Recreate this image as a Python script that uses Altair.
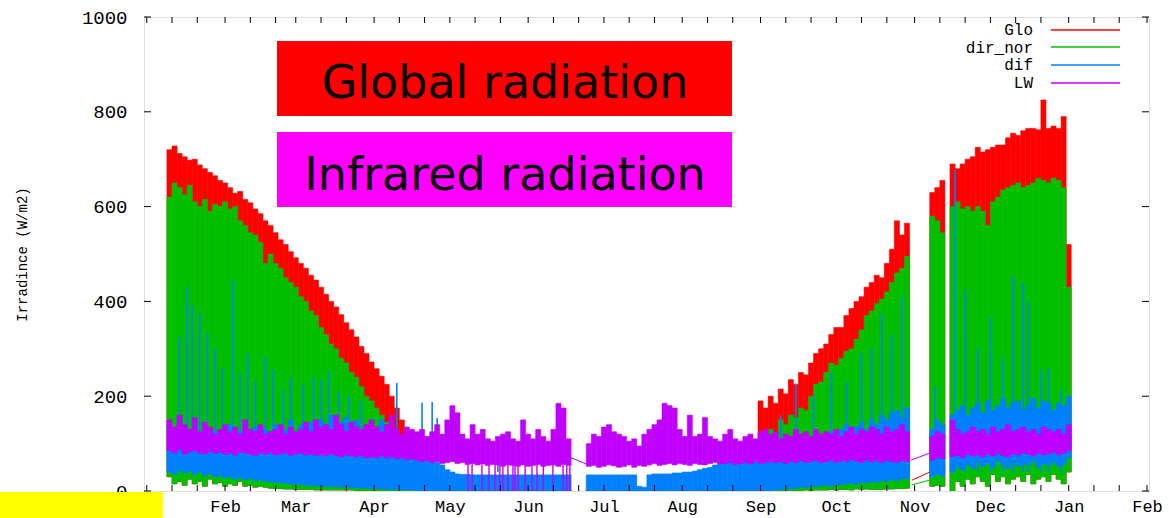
import altair as alt
import pandas as pd

N = None
# centre day (day-of-year) of each 2-day bin
bin_days = list(range(10, 367, 2))

glo_max = [
    720, 728, 712, 705, 698, 700, 688, 680, 672, 665,
    655, 650, 640, 628, 632, 615, 608, 595, 585, 570,
    560, 545, 530, 520, 505, 492, 480, 470, 455, 445,
    430, 415, 400, 388, 372, 355, 340, 325, 305, 290,
    272, 258, 242, 225, 200, 175, 150, 125, 100, 80,
    60, 45, 35, 25, 15, 10, 8, 5, 5, 3,
    3, 3, 3, 2, 2, 2, 2, 2, 2, 2,
    2, 2, 2, 2, 2, 2, 2, 2, 2, 2,
    N, N, N, 2, 2, 2, 2, 2, 2, 2,
    2, 2, 2, 2, 2, 2, 2, 2, 2, 2,
    2, 2, 3, 3, 3, 4, 5, 5, 6, 8,
    10, 12, 15, 20, 25, 40, 100, 190, 175, 200,
    185, 215, 205, 235, 225, 250, 245, 270, 290, 300,
    310, 330, 345, 345, 370, 385, 400, 410, 430, 440,
    455, 450, 480, 510, 570, 540, 565, N, N, N,
    N, 630, 640, 655, N, 690, 680, 690, 700, 705,
    725, 715, 720, 725, 730, 730, 745, 755, 750, 760,
    765, 765, 762, 825, 765, 770, 765, 790, 520,
]
dir_max = [
    620, 650, 640, 625, 645, 610, 600, 615, 590, 605,
    600, 610, 595, 600, 570, 560, 545, 540, 525, 480,
    500, 480, 470, 450, 440, 430, 410, 400, 380, 370,
    345, 330, 310, 300, 280, 270, 250, 240, 220, 200,
    190, 175, 160, 145, 120, 100, 80, 60, 40, 30,
    20, 12, 8, 5, 4, 3, 3, 2, 2, 2,
    2, 2, 2, 2, 2, 2, 2, 2, 2, 2,
    2, 2, 2, 2, 2, 2, 2, 2, 2, 2,
    N, N, N, 2, 2, 2, 2, 2, 2, 2,
    2, 2, 2, 2, 2, 2, 2, 2, 2, 2,
    2, 2, 2, 2, 3, 3, 3, 4, 4, 5,
    5, 6, 8, 10, 12, 20, 60, 110, 100, 130,
    120, 150, 140, 160, 155, 175, 170, 200, 225, 230,
    250, 270, 265, 280, 295, 300, 320, 340, 370, 380,
    395, 405, 420, 440, 460, 470, 495, N, N, N,
    N, 580, 570, 545, N, 600, 610, 595, 600, 590,
    600, 590, 560, 610, 620, 635, 640, 645, 650, 640,
    645, 650, 660, 655, 650, 660, 655, 640, 430,
]
dir_min = [
    30, 15, 20, 12, 25, 15, 20, 10, 25, 15,
    18, 10, 15, 12, 20, 10, 12, 8, 10, 8,
    6, 5, 5, 4, 4, 3, 3, 3, 3, 2,
    2, 2, 2, 2, 2, 2, 2, 1, 1, 1,
    0, 0, 0, 0, 0, 0, 0, 0, 0, 0,
    0, 0, 0, 0, 0, 0, 0, 0, 0, 0,
    0, 0, 0, 0, 0, 0, 0, 0, 0, 0,
    0, 0, 0, 0, 0, 0, 0, 0, 0, 0,
    N, N, N, 0, 0, 0, 0, 0, 0, 0,
    0, 0, 0, 0, 0, 0, 0, 0, 0, 0,
    0, 0, 0, 0, 0, 0, 0, 0, 0, 0,
    0, 0, 0, 0, 0, 0, 0, 0, 0, 0,
    0, 0, 1, 0, 1, 1, 2, 1, 2, 2,
    2, 3, 2, 3, 3, 2, 4, 3, 4, 3,
    3, 3, 4, 4, 5, 5, 6, N, N, N,
    N, 10, 12, 10, N, 0, 20, 10, 25, 15,
    30, 20, 10, 35, 20, 30, 15, 25, 30, 20,
    35, 15, 25, 30, 20, 35, 25, 15, 40,
]
dif_max = [
    140, 120, 160, 130, 110, 150, 120, 130, 115, 125,
    120, 130, 140, 110, 125, 120, 115, 135, 120, 130,
    125, 140, 120, 130, 150, 125, 140, 135, 145, 130,
    150, 140, 160, 135, 145, 155, 140, 150, 130, 140,
    135, 125, 150, 130, 120, 110, 100, 95, 85, 80,
    75, 70, 65, 60, 55, 45, 40, 36, 35, 35,
    34, 34, 34, 34, 34, 34, 34, 34, 34, 34,
    34, 34, 34, 34, 34, 34, 34, 34, 34, 34,
    N, N, N, 34, 34, 34, 34, 34, 34, 34,
    34, 34, 34, 10, 8, 34, 36, 36, 36, 36,
    38, 38, 40, 40, 42, 45, 48, 50, 55, 58,
    60, 62, 65, 66, 70, 72, 75, 80, 85, 80,
    85, 90, 95, 100, 90, 105, 110, 100, 115, 120,
    110, 125, 120, 130, 140, 125, 135, 145, 130, 150,
    140, 160, 150, 165, 170, 155, 175, N, N, N,
    N, 130, 150, 140, N, 160, 170, 180, 160, 175,
    185, 165, 190, 170, 180, 195, 175, 185, 190, 170,
    180, 195, 175, 190, 185, 170, 185, 180, 200,
]
dif_min = [
    40, 35, 45, 38, 42, 35, 40, 32, 36, 30,
    32, 28, 30, 25, 28, 24, 26, 22, 24, 20,
    20, 18, 18, 16, 15, 14, 14, 12, 12, 11,
    10, 10, 9, 9, 8, 8, 7, 7, 6, 6,
    5, 5, 4, 4, 3, 3, 2, 2, 2, 1,
    0, 0, 0, 0, 0, 0, 0, 0, 0, 0,
    0, 0, 0, 0, 0, 0, 0, 0, 0, 0,
    0, 0, 0, 0, 0, 0, 0, 0, 0, 0,
    N, N, N, 0, 0, 0, 0, 0, 0, 0,
    0, 0, 0, 0, 0, 0, 0, 0, 0, 0,
    0, 0, 0, 0, 0, 0, 0, 0, 0, 0,
    0, 0, 0, 0, 0, 0, 0, 0, 0, 0,
    3, 2, 5, 4, 6, 8, 7, 10, 9, 11,
    12, 10, 14, 13, 15, 16, 14, 18, 17, 20,
    18, 22, 20, 24, 22, 25, 26, N, N, N,
    N, 30, 35, 32, N, 40, 50, 45, 55, 48,
    60, 52, 58, 50, 62, 55, 48, 60, 52, 58,
    55, 62, 50, 58, 54, 60, 52, 56, 70,
]
lw_max = [
    150, 135, 160, 140, 130, 155, 125, 145, 135, 120,
    130, 140, 125, 135, 120, 150, 130, 125, 140, 120,
    125, 130, 140, 120, 135, 125, 130, 145, 125, 150,
    135, 140, 130, 160, 140, 125, 145, 135, 130, 140,
    150, 135, 125, 140, 160, 130, 120, 135, 130, 125,
    130, 115, 125, 140, 120, 150, 180, 165, 120, 110,
    140, 120, 130, 110, 105, 115, 120, 125, 110, 105,
    150, 120, 110, 130, 115, 105, 130, 185, 175, 110,
    N, N, N, 100, 120, 115, 135, 140, 125, 120,
    115, 105, 110, 95, 120, 130, 140, 150, 185, 180,
    175, 130, 115, 160, 115, 120, 155, 115, 110, 105,
    120, 130, 110, 105, 115, 120, 110, 125, 130, 120,
    125, 110, 120, 115, 130, 120, 125, 115, 130, 120,
    125, 120, 130, 115, 125, 135, 120, 130, 125, 135,
    130, 120, 135, 125, 130, 140, 125, N, N, N,
    N, 115, 125, 120, N, 150, 130, 120, 125, 135,
    125, 130, 120, 135, 125, 130, 140, 125, 130, 135,
    125, 130, 120, 135, 130, 125, 130, 120, 140,
]
lw_min = [
    85, 80, 88, 78, 82, 85, 80, 78, 84, 80,
    82, 78, 80, 76, 82, 80, 78, 75, 80, 78,
    80, 76, 78, 80, 75, 78, 80, 76, 78, 75,
    76, 74, 78, 75, 72, 76, 74, 72, 75, 70,
    72, 70, 74, 70, 72, 68, 70, 66, 68, 65,
    62, 64, 60, 62, 58, 60, 62, 58, 60, 56,
    58, 55, 57, 54, 56, 55, 52, 55, 54, 52,
    55, 52, 54, 56, 52, 54, 55, 52, 56, 54,
    N, N, N, 52, 54, 50, 52, 55, 53, 50,
    52, 55, 50, 54, 52, 55, 58, 54, 56, 58,
    55, 58, 56, 54, 58, 56, 55, 58, 60, 57,
    58, 60, 56, 58, 60, 57, 62, 58, 60, 62,
    60, 62, 58, 62, 60, 64, 60, 62, 65, 60,
    62, 65, 60, 64, 62, 66, 63, 60, 65, 62,
    64, 60, 65, 62, 60, 64, 62, N, N, N,
    N, 65, 70, 68, N, 72, 75, 70, 78, 74,
    76, 72, 78, 74, 80, 75, 72, 78, 76, 80,
    78, 74, 80, 76, 78, 82, 76, 80, 85,
]

# isolated narrow spikes of diffuse radiation (day-of-year, peak)
dif_spike_day = [14, 17, 19, 22, 25, 28, 31, 35, 38, 41, 44, 48, 51, 55, 58, 63, 67, 70,
                 73, 77, 81, 86, 100, 110, 114, 116, 140,
                 252, 258, 265, 272, 278, 284, 288, 292, 296, 300, 313, 321, 325, 330,
                 335, 340, 344, 348, 350, 355, 358, 363]
dif_spike_top = [325, 430, 392, 375, 333, 300, 260, 445, 250, 290, 230, 283, 255, 215, 240,
                 224, 240, 235, 250, 210, 200, 190, 228, 186, 188, 154, 103,
                 160, 227, 200, 250, 230, 290, 300, 375, 330, 410, 220, 677, 424, 300,
                 365, 280, 452, 439, 400, 255, 260, 213]
# LW drop-outs to zero in May-June
lw_drop_day = [128.2, 129.8, 133.7, 136.5, 138.9, 140.8, 142.0, 144.0, 146.0, 146.8,
               148.0, 150.8, 153.5, 155.5, 158.0, 161.8, 165.8, 167.3, 168.5]
lw_drop_top = [58, 60, 56, 62, 58, 55, 60, 57, 59, 56, 60, 58, 55, 57, 60, 58, 56, 59, 57]
# straight connecting lines across data gaps
bridge_series = ["LW", "LW", "Glo", "dir_nor"]
bridge_day_a = [169.0, 303.5, 304.0, 304.0]
bridge_val_a = [70, 65, 23, 13]
bridge_day_b = [176.0, 311.0, 311.0, 311.0]
bridge_val_b = [55, 80, 40, 23]

series_names = ["Glo", "dir_nor", "dif", "LW"]
series_colors = ["#ff0000", "#00c000", "#0080ff", "#c000ff"]
COL = dict(zip(series_names, series_colors))

y_ticks = [0, 200, 400, 600, 800, 1000]
tick_days_of_month = [1, 11, 21]

for lst in (glo_max, dir_max, dir_min, dif_max, dif_min, lw_max, lw_min):
    assert len(lst) == len(bin_days)

BASE = pd.Timestamp("2009-01-01")


def to_date(d):
    return BASE + pd.Timedelta(days=float(d) - 1)


def band_frame(lo, hi):
    rows = []
    for d, a, b in zip(bin_days, lo, hi):
        if a is None or b is None:
            continue
        rows.append({"t0": to_date(d - 1), "t1": to_date(d + 1), "lo": a, "hi": b})
    return pd.DataFrame(rows)


W, H = 1005, 474
MONO = "Liberation Mono"

tick_dates = []
for yr, mo in [(2009, m) for m in range(1, 13)] + [(2010, 1), (2010, 2)]:
    for dd in tick_days_of_month:
        ts = pd.Timestamp(year=yr, month=mo, day=dd)
        if ts <= pd.Timestamp("2010-02-01"):
            tick_dates.append(ts)

xscale = alt.Scale(domain=[alt.DateTime(year=2008, month=12, date=30, hours=22),
                           alt.DateTime(year=2010, month=2, date=1, hours=19)], nice=False)
yscale = alt.Scale(domain=[0, 1000], nice=False, zero=False)

xaxis = alt.Axis(
    values=[alt.DateTime(year=t.year, month=t.month, date=t.day) for t in tick_dates],
    labelExpr="date(datum.value) == 1 ? timeFormat(datum.value, '%b') : ''",
    ticks=False, domain=False, grid=False, title="",
    labelFont=MONO, labelFontSize=17, labelColor="#000000", labelPadding=7,
    labelOverlap=False, labelFlush=False,
)
yaxis = alt.Axis(
    values=y_ticks, format="d", ticks=False, domain=False, grid=False,
    title="Irradince (W/m2)", titleFont=MONO, titleFontSize=14, titleFontWeight="normal",
    titleColor="#000000", titleX=-122, titleY=H / 2, titleAngle=-90,
    titleBaseline="middle", titleAlign="center",
    labelFont=MONO, labelFontSize=19, labelColor="#000000", labelPadding=17,
)


def X(field):
    return alt.X(field, type="temporal", scale=xscale, axis=xaxis)


def Y(field):
    return alt.Y(field, type="quantitative", scale=yscale, axis=yaxis)


def band_layer(lo, hi, color):
    return alt.Chart(band_frame(lo, hi)).mark_rect(
        color=color, stroke=color, strokeWidth=0.6, clip=True
    ).encode(x=X("t0"), x2="t1", y=Y("lo"), y2="hi")


layers = [
    band_layer(dir_min, glo_max, COL["Glo"]),
    band_layer(dir_min, dir_max, COL["dir_nor"]),
    band_layer(dif_min, dif_max, COL["dif"]),
]

spikes = pd.DataFrame({"t": [to_date(d) for d in dif_spike_day],
                       "lo": [40] * len(dif_spike_day), "hi": dif_spike_top})
layers.append(alt.Chart(spikes).mark_rule(color=COL["dif"], strokeWidth=1.6, clip=True)
              .encode(x=X("t"), y=Y("lo"), y2="hi"))

layers.append(band_layer(lw_min, lw_max, COL["LW"]))

drops = pd.DataFrame({"t": [to_date(d) for d in lw_drop_day],
                      "lo": [0] * len(lw_drop_day), "hi": lw_drop_top})
layers.append(alt.Chart(drops).mark_rule(color=COL["LW"], strokeWidth=1.4, clip=True)
              .encode(x=X("t"), y=Y("lo"), y2="hi"))

brows = []
for k, (s, da, va, db, vb) in enumerate(zip(bridge_series, bridge_day_a, bridge_val_a,
                                            bridge_day_b, bridge_val_b)):
    brows.append({"seg": k, "series": s, "t": to_date(da), "v": va})
    brows.append({"seg": k, "series": s, "t": to_date(db), "v": vb})
bdf = pd.DataFrame(brows)
layers.append(alt.Chart(bdf).mark_line(strokeWidth=1, clip=True).encode(
    x=X("t"), y=Y("v"), detail="seg:N",
    color=alt.Color("series:N", scale=alt.Scale(domain=series_names, range=series_colors),
                    legend=None)))

# inward border ticks (gnuplot style), bottom/top and left/right
tdf = pd.DataFrame({"t": tick_dates})
layers.append(alt.Chart(tdf).mark_rule(color="#000000", strokeWidth=1)
              .encode(x=X("t"), y=alt.value(H), y2=alt.value(H - 6)))
layers.append(alt.Chart(tdf).mark_rule(color="#000000", strokeWidth=1)
              .encode(x=X("t"), y=alt.value(0), y2=alt.value(6)))
ydf = pd.DataFrame({"v": y_ticks})
layers.append(alt.Chart(ydf).mark_rule(color="#000000", strokeWidth=1)
              .encode(y=Y("v"), x=alt.value(0), x2=alt.value(7)))
layers.append(alt.Chart(ydf).mark_rule(color="#000000", strokeWidth=1)
              .encode(y=Y("v"), x=alt.value(W - 7), x2=alt.value(W)))

# annotation boxes
one = pd.DataFrame({"k": [0]})
layers.append(alt.Chart(one).mark_rect(color="#ff0000").encode(
    x=alt.value(133), x2=alt.value(588), y=alt.value(24), y2=alt.value(99)))
layers.append(alt.Chart(one).mark_rect(color="#ff00ff").encode(
    x=alt.value(133), x2=alt.value(588), y=alt.value(115), y2=alt.value(190)))
ann = pd.DataFrame({"txt": ["Global radiation", "Infrared radiation"]})
layers.append(alt.Chart(ann.iloc[[0]]).mark_text(
    font="DejaVu Sans", fontSize=46, color="#000000", align="center", baseline="alphabetic"
).encode(text="txt:N", x=alt.value(361), y=alt.value(81)))
layers.append(alt.Chart(ann.iloc[[1]]).mark_text(
    font="DejaVu Sans", fontSize=46, color="#000000", align="center", baseline="alphabetic"
).encode(text="txt:N", x=alt.value(361), y=alt.value(173)))

# key (top right)
for i, (name, col) in enumerate(zip(series_names, series_colors)):
    yy = [13, 30.5, 48, 65.5][i]
    ldf = pd.DataFrame({"name": [name]})
    layers.append(alt.Chart(ldf).mark_text(
        font=MONO, fontSize=16, color="#000000", align="right", baseline="middle"
    ).encode(text="name:N", x=alt.value(889), y=alt.value(yy)))
    layers.append(alt.Chart(ldf).mark_rule(stroke=col, strokeWidth=1.5).encode(
        x=alt.value(907), x2=alt.value(976), y=alt.value(round(yy))))

# yellow patch at the bottom-left corner
layers.append(alt.Chart(one).mark_rect(color="#ffff00").encode(
    x=alt.value(-144), x2=alt.value(19), y=alt.value(475), y2=alt.value(501)))

chart = alt.layer(*layers).properties(
    width=W, height=H,
    autosize=alt.AutoSizeParams(type="none"),
    padding={"left": 144, "top": 17, "right": 20, "bottom": 27},
).configure_view(stroke="#000000", strokeWidth=1.5).configure(background="#ffffff")

chart.save("out.html", embed_options={"renderer": "svg", "actions": False})
